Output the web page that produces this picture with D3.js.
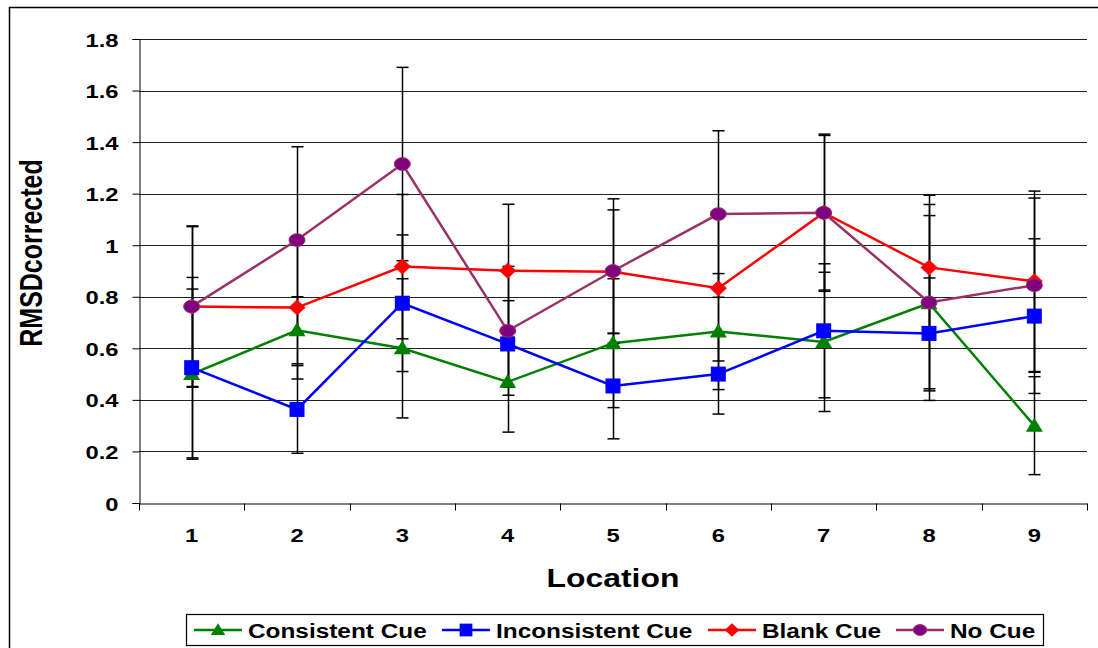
<!DOCTYPE html>
<html>
<head>
<meta charset="utf-8">
<script src="https://cdn.jsdelivr.net/npm/d3@7"></script>
<style>
  html, body { margin: 0; padding: 0; background: #fff; }
  svg { display: block; font-family: "Liberation Sans", Arial, sans-serif; font-weight: bold; }
</style>
</head>
<body>
<svg id="chart" width="1098" height="648"></svg>
<script>
// Location labels along the x axis
const locations = ["1", "2", "3", "4", "5", "6", "7", "8", "9"];

// Mean RMSDcorrected per location, one array per cue condition
const consistentCue   = [0.50, 0.67, 0.60, 0.47, 0.62, 0.665, 0.625, 0.775, 0.30];
const inconsistentCue = [0.525, 0.363, 0.775, 0.617, 0.454, 0.50, 0.668, 0.658, 0.725];
const blankCue        = [0.762, 0.758, 0.917, 0.901, 0.897, 0.833, 1.126, 0.914, 0.86];
const noCue           = [0.762, 1.02, 1.315, 0.668, 0.90, 1.121, 1.126, 0.778, 0.845];

// Error bar half-widths (symmetric)
const consistentErr   = [0.33, 0.13, 0.27, 0.195, 0.25, 0.225, 0.27, 0.34, 0.19];
const inconsistentErr = [0.35, 0.17, 0.265, 0.168, 0.205, 0.155, 0.26, 0.215, 0.30];
const blankErr        = [0.313, 0.277, 0.28, 0.258, 0.24, 0.282, 0.305, 0.28, 0.35];
const noCueErr        = [0.31, 0.362, 0.375, 0.25, 0.28, 0.323, 0.30, 0.38, 0.338];

// Y axis tick values
const yTicks = [0, 0.2, 0.4, 0.6, 0.8, 1, 1.2, 1.4, 1.6, 1.8];

const series = [
  { name: "Consistent Cue",   values: consistentCue,   err: consistentErr,   line: "#008000", fill: "#008000", shape: "triangle" },
  { name: "Inconsistent Cue", values: inconsistentCue, err: inconsistentErr, line: "#0000FF", fill: "#0000FF", shape: "square" },
  { name: "Blank Cue",        values: blankCue,        err: blankErr,        line: "#FF0000", fill: "#FF0000", shape: "diamond" },
  { name: "No Cue",           values: noCue,           err: noCueErr,        line: "#993366", fill: "#800080", shape: "circle" }
];

const SX = 1.25; // horizontal stretch applied to glyphs and round markers

const svg = d3.select("#chart");
const plot = { left: 139, right: 1087, top: 39, bottom: 503 };

const x = d3.scaleBand().domain(locations).range([plot.left, plot.right]).padding(0);
const y = d3.scaleLinear().domain([0, 1.8]).range([plot.bottom, plot.top]);
const cx = d => x(d) + x.bandwidth() / 2;

// Outer frame of the chart area
svg.append("rect")
  .attr("x", 9.5).attr("y", 7.5)
  .attr("width", 1200).attr("height", 700)
  .attr("fill", "none").attr("stroke", "#000").attr("stroke-width", 1.5);

// Horizontal gridlines
svg.append("g").selectAll("line")
  .data(yTicks.filter(t => t > 0))
  .join("line")
  .attr("x1", plot.left).attr("x2", plot.right)
  .attr("y1", d => Math.round(y(d)) + 0.5).attr("y2", d => Math.round(y(d)) + 0.5)
  .attr("stroke", "#222").attr("stroke-width", 1);

// Stretched text helper
function label(g, txt, px, py, size, anchor) {
  return g.append("text")
    .attr("transform", `translate(${px},${py}) scale(${SX},1)`)
    .attr("text-anchor", anchor)
    .attr("font-size", size)
    .attr("fill", "#000")
    .text(txt);
}

// Y axis
const yAxis = d3.axisLeft(y).tickValues(yTicks).tickSize(7).tickFormat(d => String(+d.toFixed(1)));
const gy = svg.append("g").attr("transform", `translate(${plot.left + 0.5},0)`).call(yAxis);
gy.select(".domain").attr("stroke", "#000").attr("stroke-width", 1);
gy.selectAll(".tick line").attr("stroke", "#000");
gy.selectAll(".tick text").remove();
gy.selectAll(".tick").each(function (d) {
  label(d3.select(this), String(+d.toFixed(1)), -21, 7, 19, "end");
});

// X axis with tick marks at category boundaries
const xAxis = d3.axisBottom(x).tickSize(0).tickFormat("");
const gx = svg.append("g").attr("transform", `translate(0,${plot.bottom + 0.5})`).call(xAxis);
gx.select(".domain").attr("stroke", "#000").attr("stroke-width", 1);
const bounds = locations.map(d => x(d)).concat([plot.right]);
gx.selectAll(".bound").data(bounds).join("line").attr("class", "bound")
  .attr("x1", d => Math.round(d) + 0.5).attr("x2", d => Math.round(d) + 0.5)
  .attr("y1", 0).attr("y2", 7).attr("stroke", "#000");
locations.forEach(d => label(gx, d, cx(d), 38.5, 19, "middle"));

// Axis titles
label(svg, "Location", (plot.left + plot.right) / 2, 587, 25.5, "middle");
svg.append("text")
  .attr("transform", `translate(42,253) rotate(-90) scale(1,${SX})`)
  .attr("text-anchor", "middle")
  .attr("font-size", 25)
  .text("RMSDcorrected");

// Marker drawing
function marker(g, shape, fill, px, py, scale) {
  const s = scale || 1;
  if (shape === "triangle") {
    g.append("path").attr("d", `M${px},${py - 8 * s} L${px + 8.5 * s},${py + 6 * s} L${px - 8.5 * s},${py + 6 * s} Z`).attr("fill", fill);
  } else if (shape === "square") {
    g.append("rect").attr("x", px - 7.5 * s).attr("y", py - 7.5 * s).attr("width", 15 * s).attr("height", 15 * s).attr("fill", fill);
  } else if (shape === "diamond") {
    g.append("path").attr("d", `M${px},${py - 8 * s} L${px + 8.5 * s},${py} L${px},${py + 8 * s} L${px - 8.5 * s},${py} Z`).attr("fill", fill);
  } else {
    g.append("ellipse").attr("cx", px).attr("cy", py).attr("rx", 6.4 * SX * s).attr("ry", 6.4 * s)
      .attr("fill", fill).attr("stroke", "#993366").attr("stroke-width", 1);
  }
}

const lineGen = d3.line().x((d, i) => cx(locations[i])).y(d => y(d));

// Series lines
const gLines = svg.append("g");
series.forEach(s => {
  gLines.append("path").datum(s.values)
    .attr("d", lineGen).attr("fill", "none")
    .attr("stroke", s.line).attr("stroke-width", 2.5);
});

// Error bars
const gErr = svg.append("g").attr("stroke", "#000").attr("stroke-width", 1.5);
series.forEach(s => {
  s.values.forEach((v, i) => {
    const px = Math.round(cx(locations[i])) + 0.5;
    const hi = y(v + s.err[i]), lo = y(v - s.err[i]);
    gErr.append("line").attr("x1", px).attr("x2", px).attr("y1", hi).attr("y2", lo);
    gErr.append("line").attr("x1", px - 6).attr("x2", px + 6).attr("y1", hi).attr("y2", hi);
    gErr.append("line").attr("x1", px - 6).attr("x2", px + 6).attr("y1", lo).attr("y2", lo);
  });
});

// Markers
const gMarks = svg.append("g");
series.forEach(s => {
  s.values.forEach((v, i) => marker(gMarks, s.shape, s.fill, cx(locations[i]), y(v)));
});

// Legend
const legend = svg.append("g");
legend.append("rect").attr("x", 186.5).attr("y", 614.5).attr("width", 857).attr("height", 31)
  .attr("fill", "#fff").attr("stroke", "#000").attr("stroke-width", 1.2);
const legendX = [194, 442, 708, 896];
series.forEach((s, i) => {
  const lx = legendX[i];
  legend.append("line").attr("x1", lx).attr("x2", lx + 48).attr("y1", 630).attr("y2", 630)
    .attr("stroke", s.line).attr("stroke-width", 2.5);
  marker(legend, s.shape, s.fill, lx + 24, 630, 0.85);
  label(legend, s.name, lx + 54, 637.5, 19.5, "start");
});
</script>
</body>
</html>
